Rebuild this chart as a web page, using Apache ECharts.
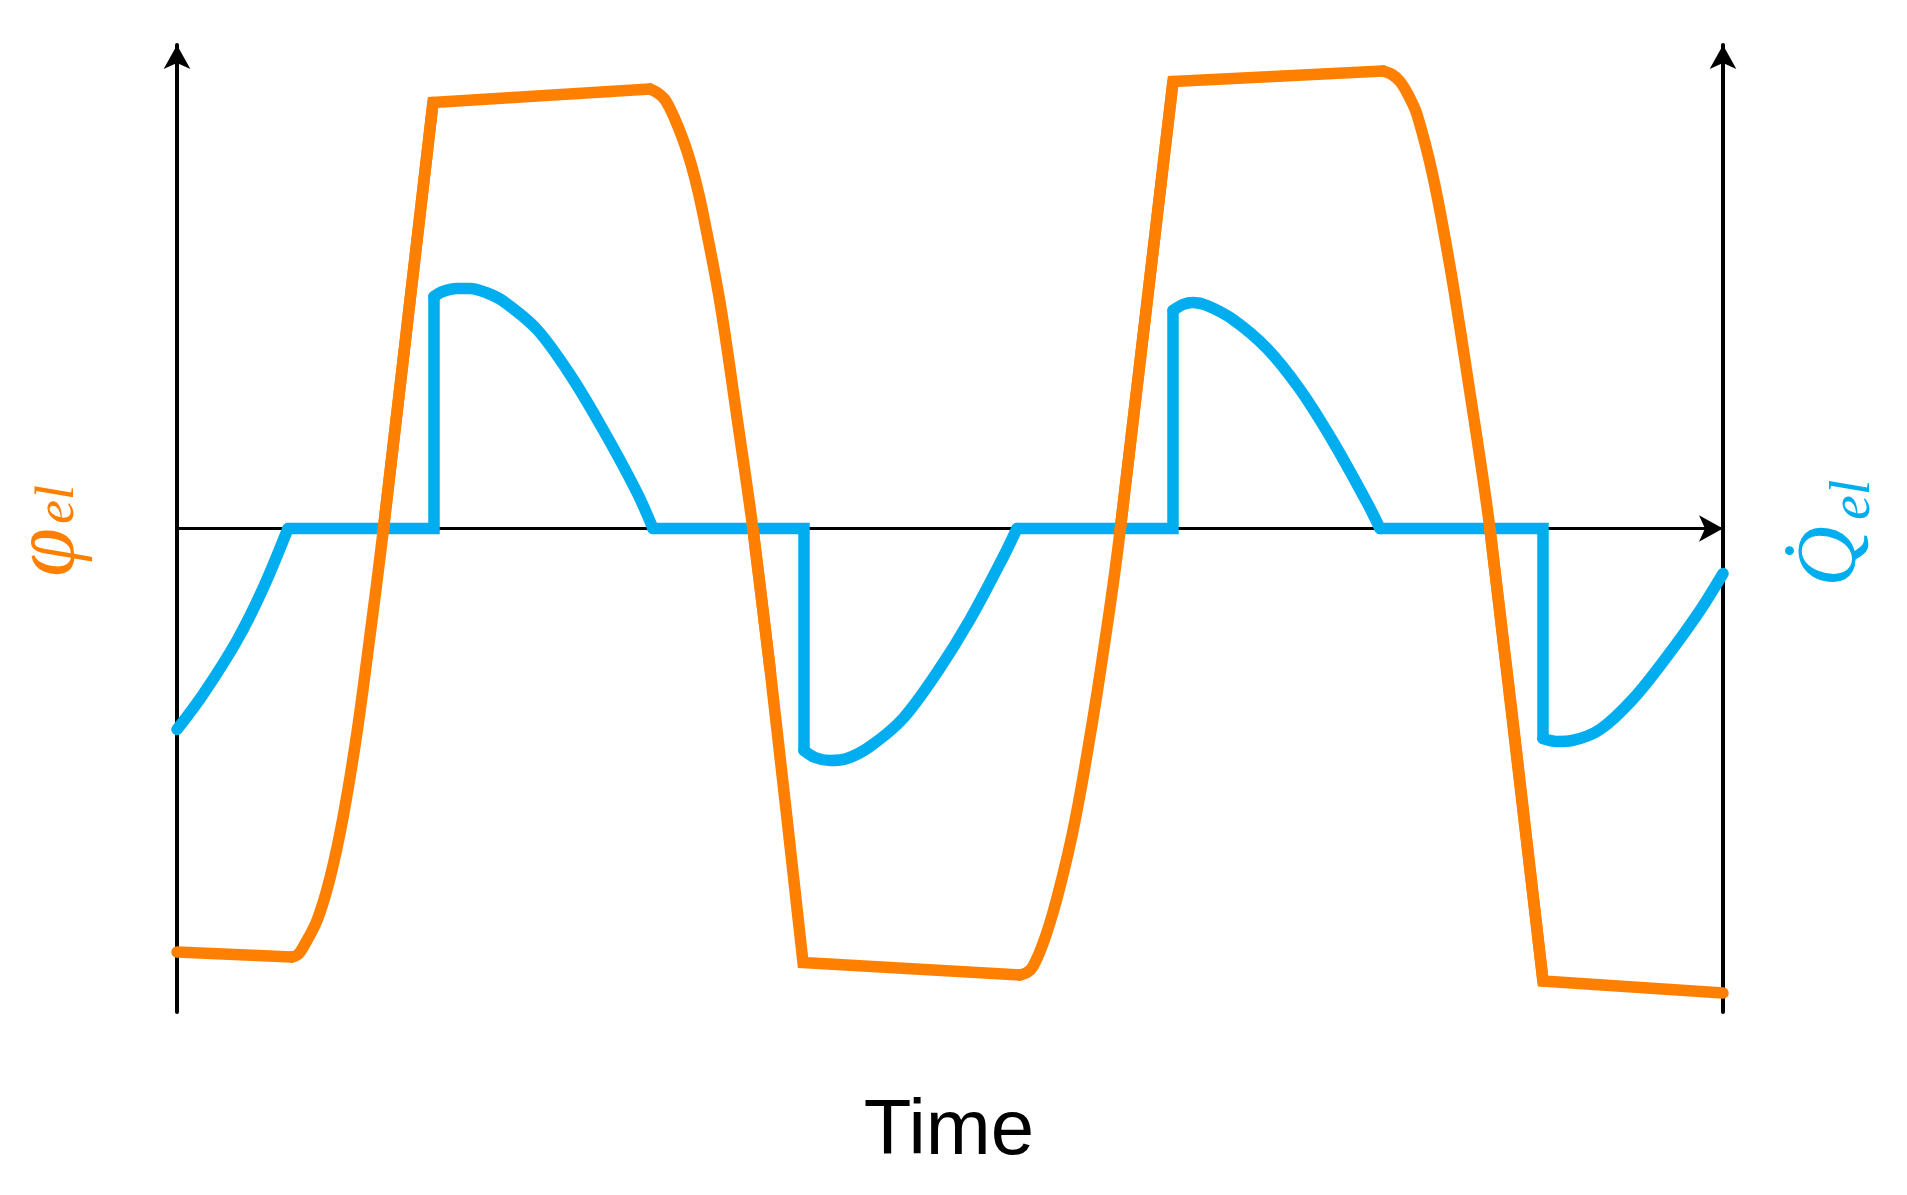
<!DOCTYPE html>
<html>
<head>
<meta charset="utf-8">
<title>phi / Q dot</title>
<script src="https://cdn.jsdelivr.net/npm/echarts@6/dist/echarts.min.js"></script>
<style>
  html, body { margin: 0; padding: 0; background: #fff; }
  #main { width: 1907px; height: 1195px; }
</style>
</head>
<body>
<div id="main"></div>
<script>
// values (arbitrary units, time axis 0..1546, value axis +-483.5)
var phiTime = [0, 115, 121, 126, 140, 153, 166, 180, 193, 206, 256, 473, 480, 487, 493, 501, 510, 518, 526, 543, 560, 576, 593, 610, 626,
               843, 850, 856, 866, 876, 886, 895, 903, 911, 920, 928, 936, 943, 996, 1206, 1215, 1223, 1231, 1240, 1256, 1273, 1290, 1313, 1366, 1546];
var phiValue = [-423.5, -428.5, -426, -419, -392, -349.5, -289, -204, -107, -4, 426, 439.5, 436, 430, 420, 402, 377.6, 350, 315, 226, 111, -1, -140, -290, -434,
               -446.5, -444, -438, -415, -384, -346, -307, -266, -220, -165, -112, -57, -3, 447, 457.5, 454, 447, 434, 414, 352, 262, 155, -1, -452.5, -464.5];
// [first index, last index, smooth?]
var phiPieces = [[0, 1, false], [1, 10, true], [9, 11, false], [11, 22, true], [21, 25, false],
                 [25, 38, true], [37, 39, false], [39, 48, true], [47, 49, false]];

var qTime = [0, 26, 60, 86, 111, 257, 257, 266, 280, 293, 310, 326, 360, 393, 426, 460, 476,
             627, 627, 638, 653, 670, 693, 726, 760, 793, 826, 840,
             996, 996, 1006, 1016, 1030, 1056, 1090, 1123, 1156, 1190, 1203,
             1366, 1366, 1380, 1395, 1423, 1456, 1490, 1523, 1546];
var qValue = [-201, -166, -112, -60, 0, 0, 232, 237, 240, 240, 235.5, 227.5, 199, 154, 99, 36, 0,
              0, -222, -229, -232, -230, -218, -190, -144, -91, -29, 0,
              0, 218, 224, 226, 223, 209, 180, 139, 87, 26, 0,
              0, -210, -213, -212, -201, -170.5, -128, -82, -45];
var qPieces = [[0, 4, true], [4, 6, false], [6, 16, true], [16, 18, false], [18, 27, true],
               [27, 29, false], [29, 38, true], [38, 40, false], [40, 47, true]];

var timeMax = 1546;
var valueMax = 483.5;

var orange = '#FF8000';
var blue = '#00AEEF';

function pieceSeries(xs, ys, pieces, color, z) {
    var out = [];
    pieces.forEach(function (p) {
        var data = [];
        for (var i = p[0]; i <= p[1]; i++) data.push([xs[i], ys[i]]);
        out.push({
            type: 'line', data: data, z: z,
            showSymbol: false, symbol: 'none',
            smooth: p[2] ? 0.33 : false,
            lineStyle: { color: color, width: 11.5, join: 'miter', cap: 'round' }
        });
    });
    return out;
}

var arrowLine = function (width) {
    return {
        show: true,
        onZero: false,
        symbol: ['none', 'arrow'],
        symbolSize: [20, 24],
        lineStyle: { color: '#000', width: width }
    };
};

var hidden = { axisTick: { show: false }, axisLabel: { show: false }, splitLine: { show: false } };

var chart = echarts.init(document.getElementById('main'), null, { renderer: 'canvas' });
var option = {
    backgroundColor: '#fff',
    animation: false,
    grid: { left: 177, right: 184, top: 45, bottom: 183, containLabel: false },
    xAxis: Object.assign({
        type: 'value', min: 0, max: timeMax,
        axisLine: Object.assign(arrowLine(3), { onZero: true })
    }, hidden),
    yAxis: [
        Object.assign({ type: 'value', min: -valueMax, max: valueMax, position: 'left', axisLine: arrowLine(4) }, hidden),
        Object.assign({ type: 'value', min: -valueMax, max: valueMax, position: 'right', axisLine: arrowLine(4) }, hidden)
    ],
    series: pieceSeries(qTime, qValue, qPieces, blue, 2)
        .concat(pieceSeries(phiTime, phiValue, phiPieces, orange, 3)),
    graphic: [
        {
            type: 'text', x: 949, y: 1132,
            style: {
                text: 'Time', fill: '#000', fontSize: 78, fontFamily: '"Liberation Sans", Arial, sans-serif',
                align: 'center', verticalAlign: 'middle'
            }
        },
        {
            // left label, rotated to read bottom to top
            type: 'group', x: 56, y: 530, rotation: Math.PI / 2,
            children: [
                { type: 'text', x: 2, y: -6, style: { text: 'φ', fill: orange, fontStyle: 'italic', fontSize: 88, fontFamily: '"Liberation Serif", serif', align: 'right', verticalAlign: 'middle' } },
                { type: 'text', x: 6, y: 3, style: { text: 'el', fill: orange, fontStyle: 'italic', fontSize: 54, fontFamily: '"Liberation Serif", serif', align: 'left', verticalAlign: 'middle' } }
            ]
        },
        {
            type: 'group', x: 1832, y: 530, rotation: Math.PI / 2,
            children: [
                { type: 'text', x: 4, y: 1, style: { text: 'Q\u0307', fill: blue, fontStyle: 'italic', fontSize: 84, fontFamily: '"Liberation Serif", serif', align: 'right', verticalAlign: 'middle' } },
                { type: 'text', x: 10, y: 22, style: { text: 'el', fill: blue, fontStyle: 'italic', fontSize: 56, fontFamily: '"Liberation Serif", serif', align: 'left', verticalAlign: 'middle' } }
            ]
        }
    ]
};
chart.setOption(option);
</script>
</body>
</html>
